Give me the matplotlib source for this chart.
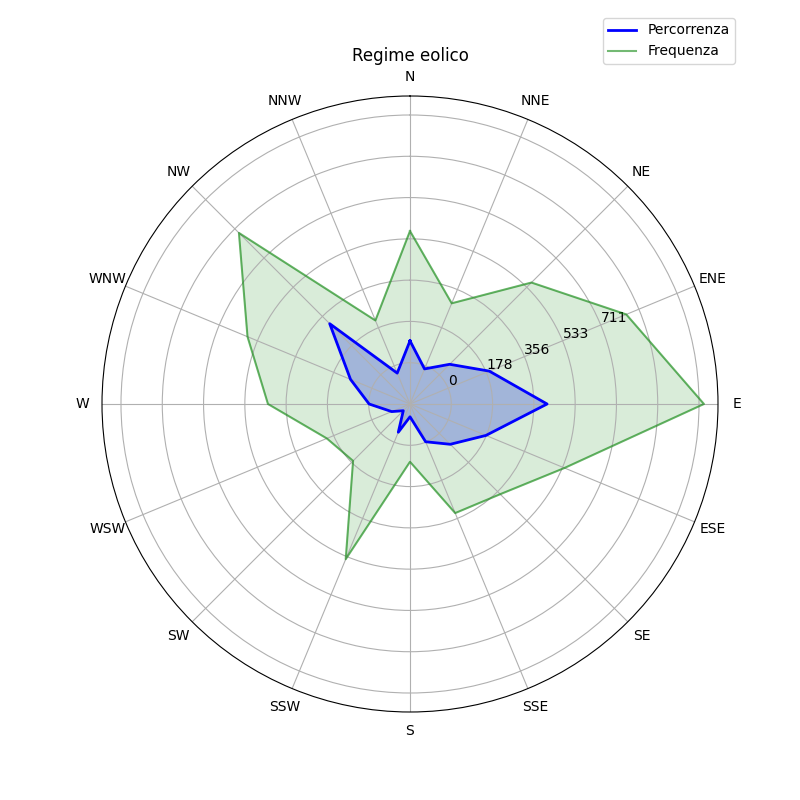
import numpy as np
import matplotlib
matplotlib.use('Agg')
import matplotlib.pyplot as plt

directions = ['N', 'NNE', 'NE', 'ENE', 'E', 'ESE', 'SE', 'SSE',
              'S', 'SSW', 'SW', 'WSW', 'W', 'WNW', 'NW', 'NNW']

# valori (unita' = passo della griglia radiale)
percorrenza = [1.53, 0.92, 1.36, 2.08, 3.32, 1.99, 1.38, 0.99,
               0.31, 0.74, 0.23, 0.48, 0.99, 1.56, 2.75, 0.81]
frequenza = [4.19, 2.64, 4.16, 5.67, 7.12, 4.05, 3.09, 2.86,
             1.40, 4.07, 1.95, 2.18, 3.44, 4.26, 5.86, 2.19]

r_ticks = [1, 2, 3, 4, 5, 6, 7]
r_labels = ['0', '178', '356', '533', '711', '', '']
r_max = 7.46

angles = np.linspace(0, 2*np.pi, len(directions), endpoint=False)
ang = np.append(angles, angles[0])
perc = np.append(percorrenza, percorrenza[0])
freq = np.append(frequenza, frequenza[0])

fig = plt.figure(figsize=(8, 8), dpi=100)
ax = fig.add_subplot(111, polar=True)
ax.set_theta_offset(np.pi/2)
ax.set_theta_direction(-1)

ax.fill(ang, perc, color='blue', alpha=0.25)
ax.fill(ang, freq, color='green', alpha=0.15)
ax.plot(ang, freq, color='green', alpha=0.55, linewidth=1.5, label='Frequenza')
ax.plot(ang, perc, color='blue', linewidth=2, label='Percorrenza')

ax.set_xticks(angles)
ax.set_xticklabels(directions)
ax.set_ylim(0, r_max)
ax.set_yticks(r_ticks)
ax.set_yticklabels(r_labels)
ax.set_rlabel_position(67.5)
ax.set_title('Regime eolico')

h, l = ax.get_legend_handles_labels()
ax.legend([h[1], h[0]], [l[1], l[0]], loc='upper right', bbox_to_anchor=(1.039, 1.138))

plt.savefig('out.png')
